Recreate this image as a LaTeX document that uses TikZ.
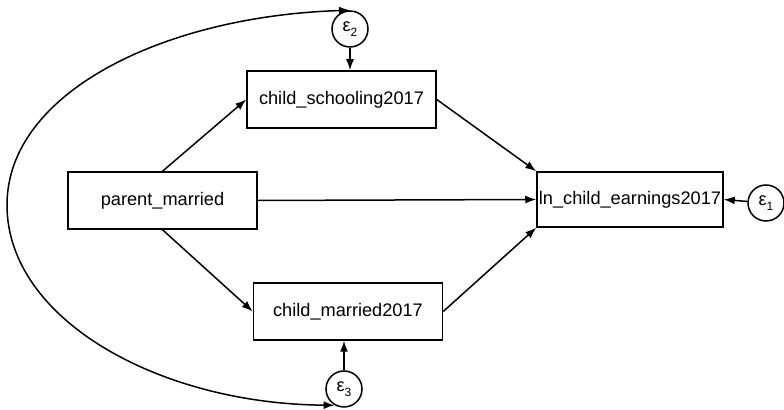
\documentclass[tikz,border=0pt]{standalone}
\usepackage{fontspec}
\setmainfont{Liberation Sans}
\usetikzlibrary{arrows.meta}
\newcommand{\errlab}[1]{ε\raisebox{-0.55ex}{\fontsize{6}{7}\selectfont #1}}

\begin{document}
\begin{tikzpicture}[x=0.5pt, y=-0.5pt, line width=0.75pt,
    >={Latex[length=5.5pt,width=4pt]},
    var/.style={draw, minimum width=94.5pt, minimum height=28.5pt, inner sep=0pt,
                font=\fontsize{9.1}{11}\selectfont},
    err/.style={draw, circle, minimum size=18pt, inner sep=0pt,
                font=\fontsize{9.1}{11}\selectfont}]
  \useasboundingbox (0,0) rectangle (784,410);

  % observed variables
  \node[var] (pm)  at (162.5,200.5) {parent\_married};
  \node[var] (sch) at (341.5,99.5)  {child\_schooling2017};
  \node[var] (mar) at (348,311.5)   {child\_married2017};
  \node[var, minimum width=93pt, minimum height=27.5pt] (ln) at (630,199.5) {ln\_child\_earnings2017};

  % error terms
  \node[err] (e1) at (766,203) {\errlab{1}};
  \node[err] (e2) at (350,29)  {\errlab{2}};
  \node[err] (e3) at (344,389) {\errlab{3}};

  % paths
  \draw[->] (pm.north) -- (sch.west);
  \draw[->] (pm.south) -- (mar.west);
  \draw[->] (pm.east) -- (ln.west);
  \draw[->] (sch.east) -- (ln.north west);
  \draw[->] (mar.east) -- (ln.south west);
  \draw[->] (e1) -- (ln.east);
  \draw[->] (e2) -- (sch.north -| e2);
  \draw[->] (e3) -- (mar.south -| e3);

  % covariance of e2 and e3
  \draw[<->] (e3.240) .. controls (160,404) and (7,320) .. (7,205)
             .. controls (7,92) and (165,16) .. (e2.north);
\end{tikzpicture}
\end{document}
